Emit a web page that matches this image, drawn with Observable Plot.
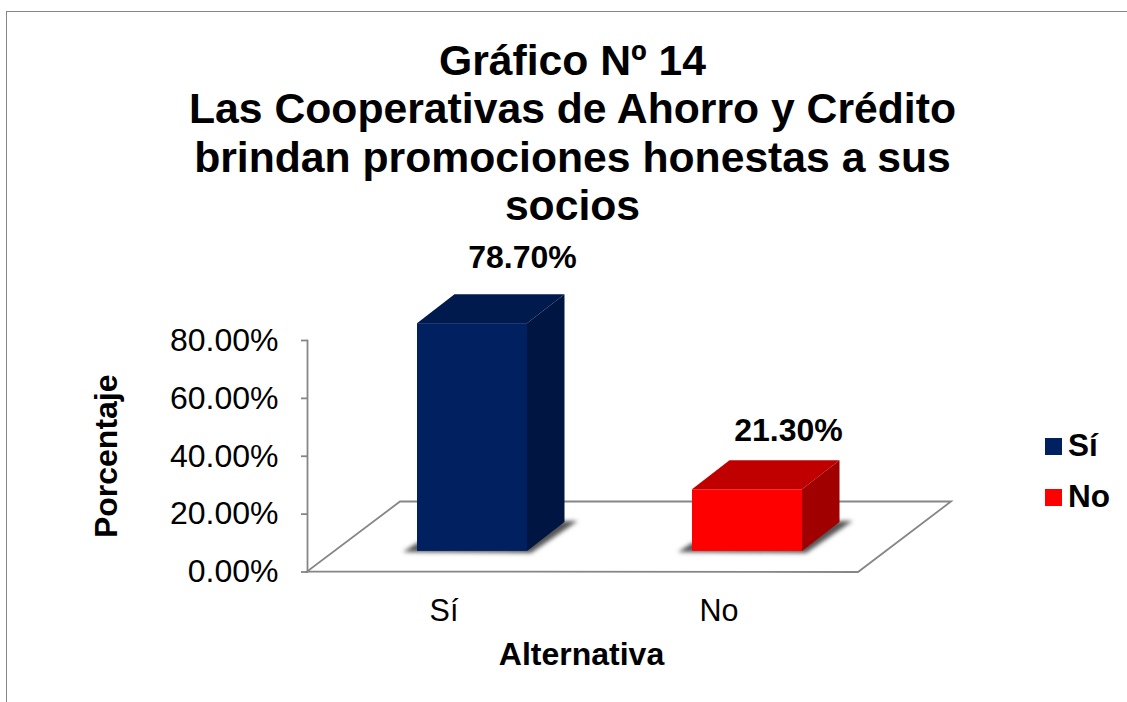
<!DOCTYPE html>
<html><head><meta charset="utf-8">
<script src="https://cdn.jsdelivr.net/npm/d3@7"></script>
<script src="https://cdn.jsdelivr.net/npm/@observablehq/plot@0.6"></script>
<style>
html,body{margin:0;padding:0;background:#fff;width:1127px;height:702px;overflow:hidden;font-family:"Liberation Sans",Arial,sans-serif;}
#wrap{position:relative;width:1127px;height:702px;}
#border{position:absolute;left:6px;top:11px;right:0;bottom:0;border-left:1px solid #868686;border-top:1px solid #868686;}
#title{position:absolute;left:0;width:1145px;top:36px;text-align:center;font-weight:bold;font-size:42.7px;line-height:48.3px;color:#000;}
.leg{position:absolute;left:1045px;font-weight:bold;font-size:31.5px;line-height:32px;color:#000;white-space:nowrap;}
.leg i{display:inline-block;position:relative;top:-1px;width:17px;height:17px;margin-right:6px;}
svg{position:absolute;left:0;top:0;}
</style></head>
<body><div id="wrap"><div id="border"></div><div id="chart"></div><div id="title"></div><div id="legend"></div></div>
<script>
const titleLines = ["Gráfico Nº 14","Las Cooperativas de Ahorro y Crédito","brindan promociones honestas a sus","socios"];
const categories = ["Sí","No"];
const values = [78.7,21.3];
const labels = ["78.70%","21.30%"];
const frontColors = ["#002060","#ff0000"];
const topColors = ["#001a4d","#c00000"];
const sideColors = ["#001542","#a00000"];
const yTicks = [0,20,40,60,80];
const rows = categories.map((c,i)=>({c,v:values[i],label:labels[i],front:frontColors[i],top:topColors[i],side:sideColors[i]}));

document.getElementById("title").innerHTML = titleLines.join("<br>");
document.getElementById("legend").innerHTML = rows.map((r,i)=>
  `<div class="leg" style="top:${429+i*50.5}px"><i style="background:${r.front}"></i>${r.c}</div>`).join("");

const barDx=27, barDy=-20.6, depthX=37.5, depthY=-29, floorX=93, floorY=-70, gray="#868686";

function scene(index, scales, values_, dims){
  const x=scales.x, y=scales.y, bw=x.bandwidth();
  const g=d3.create("svg:g");
  const id="shadowBlur";
  g.append("defs").append("filter").attr("id",id).attr("x","-30%").attr("y","-50%").attr("width","160%").attr("height","200%")
    .append("feGaussianBlur").attr("stdDeviation",2.2);
  const x0=dims.marginLeft, x1=dims.width-dims.marginRight, y0=y(0);
  const pts=a=>a.map(p=>p.join(",")).join(" ");
  g.append("polygon").attr("points",pts([[x0,y0],[x1,y0+0.5],[x1+floorX,y0+floorY],[x0+floorX,y0+floorY]]))
    .attr("fill","#fff").attr("stroke",gray).attr("stroke-width",1.8);
  for(const r of rows){
    const l=x(r.c)+barDx, rt=l+bw, t=y(r.v)+barDy, b=y(0)+barDy;
    g.append("polygon").attr("points",pts([[l-14,b+1],[l,b-8],[rt+depthX,b+depthY-1],[rt+depthX+13,b+depthY-1],[rt+4,b+2]]))
      .attr("fill","#555").attr("filter",`url(#${id})`);
    g.append("polygon").attr("points",pts([[l,t],[l+depthX,t+depthY],[rt+depthX,t+depthY],[rt,t]])).attr("fill",r.top);
    g.append("polygon").attr("points",pts([[rt,t],[rt+depthX,t+depthY],[rt+depthX,b+depthY],[rt,b]])).attr("fill",r.side);
  }
  return g.node();
}

const tf={fontFamily:"Liberation Sans",fontWeight:"bold",fill:"#000"};
const chart=Plot.plot({
  width:1127,height:702,marginLeft:307,marginRight:269,marginTop:340,marginBottom:130.5,
  style:{fontFamily:"Liberation Sans",background:"transparent",overflow:"visible"},
  x:{domain:categories,paddingInner:0.6,paddingOuter:0.3,label:null},
  y:{domain:[0,80],label:null},
  marks:[
    scene,
    Plot.frame({anchor:"left",stroke:gray,strokeWidth:1.8}),
    Plot.barY(rows,{x:"c",y:"v",fill:"front",dx:barDx,dy:barDy}),
    Plot.axisY({ticks:yTicks,tickFormat:d=>d.toFixed(2)+"%",tickSize:6,tickPadding:23,stroke:gray,strokeWidth:1.8,fill:"#000",fontSize:32,label:null}),
    Plot.axisX({tickSize:0,tickPadding:27,fill:"#000",fontSize:30.5,label:null,dx:-1.5}),
    Plot.text(rows.filter(r=>r.c==="Sí"),{x:"c",y:"v",text:"label",dx:77,dy:-87,fontSize:32,...tf}),
    Plot.text(rows.filter(r=>r.c==="No"),{x:"c",y:"v",text:"label",dx:68,dy:-80,fontSize:32,...tf}),
    Plot.text(["Alternativa"],{text:d=>d,frameAnchor:"bottom",dy:93,dx:-1.5,fontSize:32,...tf}),
    Plot.text(["Porcentaje"],{text:d=>d,frameAnchor:"left",textAnchor:"middle",dx:-201,rotate:-90,fontSize:32,...tf})
  ]
});
document.getElementById("chart").appendChild(chart);
</script></body></html>
